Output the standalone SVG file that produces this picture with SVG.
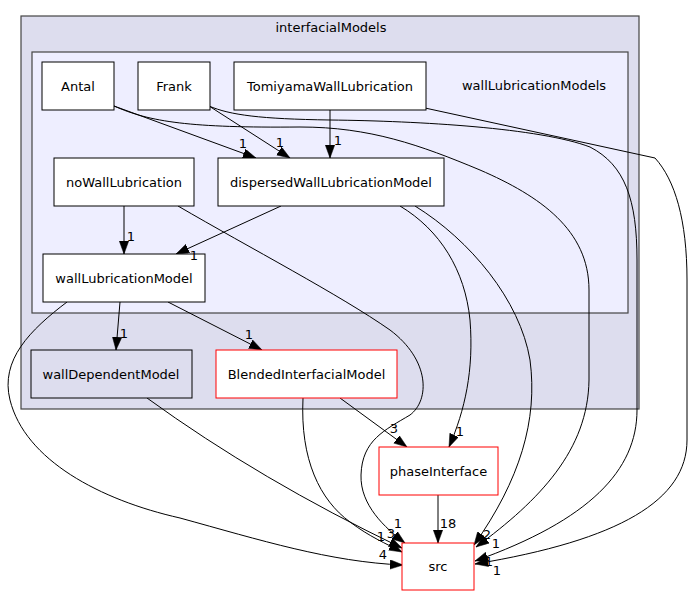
<svg xmlns="http://www.w3.org/2000/svg" width="693" height="596" viewBox="0 0 693 596">
<style>
text{font-family:"DejaVu Sans","Liberation Sans",sans-serif;font-size:13px;fill:#000;}
.c{text-anchor:middle;}
.box{fill:#fff;stroke:#000;stroke-width:1;}
.red{fill:#fff;stroke:#ff0000;stroke-width:1;}
.dir{fill:#ddddee;stroke:#000;stroke-width:1;}
.e{fill:none;stroke:#000;stroke-width:1;marker-end:url(#ah);}
.lbl{text-anchor:middle;}
</style>
<defs>
<marker id="ah" markerUnits="userSpaceOnUse" markerWidth="14" markerHeight="10" refX="13" refY="4.7" orient="auto">
<path d="M0,0 L13,4.7 L0,9.4 z" fill="#000" stroke="#000" stroke-width="0.5"/>
</marker>
</defs>
<rect width="693" height="596" fill="#fff"/>
<g id="cluster_interfacialModels">
<rect x="21" y="16" width="618" height="393" fill="#ddddee" stroke="#444" stroke-width="1.2"/>
<text class="c" x="331" y="32">interfacialModels</text>
</g>
<g id="cluster_wallLubricationModels">
<rect x="32" y="52" width="596" height="261" fill="#eeeeff" stroke="#444" stroke-width="1.2"/>
<text class="c" x="534" y="90">wallLubricationModels</text>
</g>
<g id="connectors">
<path class="e" d="M114,106 L256,158"/>
<path class="e" d="M209,106 L290,158"/>
<path class="e" d="M330,110 L330,158"/>
<path class="e" d="M124,206 L124,254"/>
<path class="e" d="M281,206 L176,254"/>
<path class="e" d="M120,302 L116,350"/>
<path class="e" d="M168,302 L262,350"/>
<path class="e" d="M340,398 L407,447"/>
<path class="e" d="M400,206 C440,230 465,270 470,320 C474,370 465,410 449,447"/>
<path class="e" d="M438,495 L438,543"/>
<path class="e" d="M178,206 C250,248 340,295 390,330 C430,360 430,400 410,415 C385,430 362,440 361,475 C360,505 385,528 405,543"/>
<path class="e" d="M147,398 Q260,480 402,548"/>
<path class="e" d="M303,398 C300,460 320,500 350,522 C370,537 385,543 402,552"/>
<path class="e" d="M67,302 C30,330 0,360 10,400 C25,460 100,500 180,518 C260,540 330,562 403,565"/>
<path class="e" d="M415,206 C470,240 520,300 530,360 C538,420 520,480 474,545"/>
<path class="e" d="M114,106 C150,122 190,128 300,127 C370,127 420,145 480,170 C540,196 589,230 589,290 L589,380 C588,450 540,500 476,547"/>
<path class="e" d="M209,106 C230,115 260,119 330,120 C420,121 540,128 590,147 C625,165 637,200 637,260 L637,410 C637,470 590,520 475,561"/>
<path class="e" d="M425,108 L655,158 C675,180 687,220 687,280 L687,440 C687,500 620,540 475,564"/>
</g>
<g id="node_Antal"><rect class="box" x="42" y="62" width="72" height="48"/><text class="c" x="78" y="90.5">Antal</text></g>
<g id="node_Frank"><rect class="box" x="138" y="62" width="72" height="48"/><text class="c" x="174" y="90.5">Frank</text></g>
<g id="node_TomiyamaWallLubrication"><rect class="box" x="234" y="62" width="192" height="48"/><text class="c" x="330" y="90.5">TomiyamaWallLubrication</text></g>
<g id="node_noWallLubrication"><rect class="box" x="54" y="158" width="140" height="48"/><text class="c" x="124" y="186.5">noWallLubrication</text></g>
<g id="node_dispersedWallLubricationModel"><rect class="box" x="218" y="158" width="226" height="48"/><text class="c" x="331" y="186.5">dispersedWallLubricationModel</text></g>
<g id="node_wallLubricationModel"><rect class="box" x="43" y="254" width="162" height="48"/><text class="c" x="124" y="282.5">wallLubricationModel</text></g>
<g id="node_wallDependentModel"><rect class="dir" x="31" y="350" width="161" height="48"/><text class="c" x="111" y="378.5">wallDependentModel</text></g>
<g id="node_BlendedInterfacialModel"><rect class="red" x="216" y="350" width="181" height="48"/><text class="c" x="306.5" y="378.5">BlendedInterfacialModel</text></g>
<g id="node_phaseInterface"><rect class="red" x="379" y="447" width="119" height="48"/><text class="c" x="438.5" y="475.5">phaseInterface</text></g>
<g id="node_src"><rect class="red" x="402" y="543" width="72" height="47"/><text class="c" x="438" y="570.5">src</text></g>
<g id="edge_labels">
<text class="lbl" x="243" y="147.5">1</text>
<text class="lbl" x="280" y="146.5">1</text>
<text class="lbl" x="338" y="144.5">1</text>
<text class="lbl" x="131" y="240.5">1</text>
<text class="lbl" x="194" y="259.5">1</text>
<text class="lbl" x="124" y="337.5">1</text>
<text class="lbl" x="249" y="338.5">1</text>
<text class="lbl" x="394" y="432.5">3</text>
<text class="lbl" x="460" y="435.5">1</text>
<text class="lbl" x="448" y="527.5">18</text>
<text class="lbl" x="398" y="527.5">1</text>
<text class="lbl" x="391" y="537.5">3</text>
<text class="lbl" x="381" y="540.5">1</text>
<text class="lbl" x="383" y="558.5">4</text>
<text class="lbl" x="487" y="538.5">2</text>
<text class="lbl" x="496" y="547.5">1</text>
<text class="lbl" x="489" y="565.5">1</text>
<text class="lbl" x="497" y="574.5">1</text>
</g>
</svg>
